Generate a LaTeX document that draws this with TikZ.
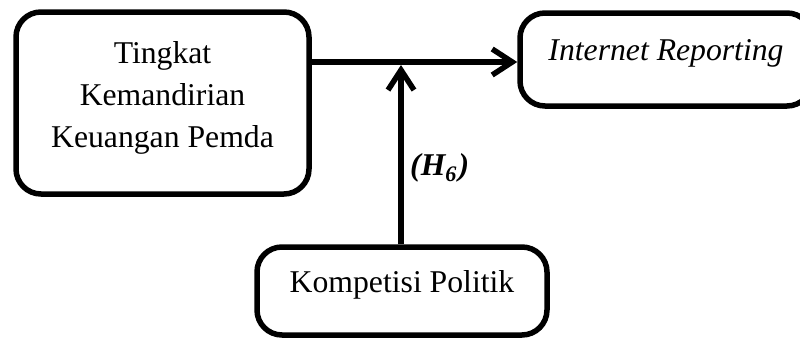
\documentclass[tikz,border=0pt]{standalone}
\usepackage{fontspec}
\setmainfont{Liberation Serif}
\usetikzlibrary{arrows.meta}

\begin{document}
\begin{tikzpicture}[x=1pt, y=-1pt,
                    box/.style={draw, line width=5.5pt, rounded corners=25pt, align=center,
                                font=\fontsize{31.7}{42}\selectfont},
                    link/.style={line width=5.5pt, -{Straight Barb[length=20pt, width=26pt]}}]
    \useasboundingbox (0,0) rectangle (800,340);

    \node (tk) [box, minimum width=293pt, minimum height=182pt, text depth=17pt] at (162.5,103)
        {Tingkat\\Kemandirian\\Keuangan Pemda};
    \node (ir) [box, minimum width=292pt, minimum height=93pt, text height=21pt, text depth=19pt] at (666,59.5)
        {\textit{Internet Reporting}};
    \node (kp) [box, minimum width=290pt, minimum height=88pt, text height=22pt, text depth=19pt] at (402,291)
        {Kompetisi Politik};
    \coordinate (mid) at (401,62);

    \draw [link] (tk.east |- mid) -- (ir.west |- mid);
    \draw [link, shorten >=3pt] (kp.north -| mid) -- (mid);

    \node (h6) [anchor=base west, inner sep=0, font=\fontsize{31.7}{38}\selectfont] at (410,175)
        {\textbf{\textit{(H\textsubscript{6}\kern1.5pt)}}};
\end{tikzpicture}
\end{document}
